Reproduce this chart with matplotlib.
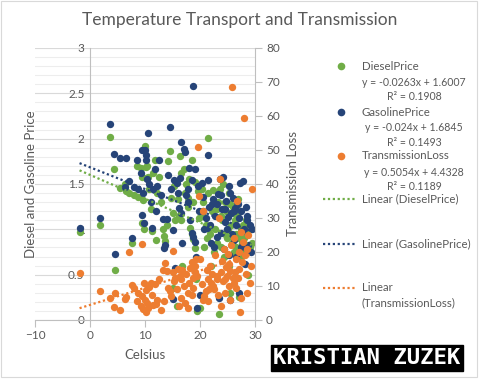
import matplotlib
matplotlib.use("Agg")
import matplotlib.pyplot as plt
import numpy as np
from matplotlib.lines import Line2D
from matplotlib.patches import Rectangle

plt.rcParams["font.family"] = ["Lato", "DejaVu Sans"]

# one row per day: temperature, diesel price, gasoline price, transmission loss
celsius = [-1.9, 1.9, 3.6, 4.4, 4.5, 5.5, 6.5, 6.4, 7.0, 7.6,
           8.0, 8.6, 8.8, 9.3, 9.4, 9.4, 9.7, 9.9, 10.0, 10.1,
           10.2, 10.4, 10.6, 10.8, 11.2, 11.5, 11.8, 12.2, 12.6, 12.9,
           13.3, 13.4, 13.6, 14.0, 14.5, 14.7, 15.0, 15.0, 15.2, 15.5,
           15.8, 16.0, 16.2, 16.4, 16.5, 16.6, 17.0, 17.2, 17.5, 17.8,
           18.0, 18.5, 18.6, 18.8, 18.7, 19.0, 19.1, 19.3, 19.5, 19.7,
           19.9, 20.0, 20.3, 20.5, 20.6, 21.0, 21.2, 21.5, 21.5, 21.8,
           22.0, 22.2, 22.5, 22.8, 23.0, 23.2, 23.5, 23.6, 23.8, 24.0,
           24.2, 24.4, 24.5, 24.7, 24.9, 25.0, 25.2, 25.3, 25.5, 25.6,
           25.9, 26.0, 26.1, 26.3, 26.5, 26.6, 26.8, 27.0, 27.1, 27.3,
           27.4, 27.5, 27.6, 27.8, 28.0, 28.1, 28.3, 28.5, 28.8, 29.0,
           29.2, 29.4,
           22.3, 23.0, 23.9, 24.6, 25.4, 26.2, 26.9, 21.7, 12.0, 14.2,
           17.9, 20.8, 28.6, 16.8, 11.0, 18.2]
diesel = [0.97, 1.05, 2.02, 1.67, 0.55, 1.46, 1.42, 1.50, 1.40, 0.85,
          1.38, 1.70, 1.36, 1.68, 1.07, 1.58, 1.32, 1.00, 1.92, 1.69,
          1.57, 1.70, 1.58, 1.45, 0.98, 1.62, 1.76, 1.40, 1.58, 1.30,
          1.00, 0.93, 0.87, 1.05, 1.86, 1.35, 1.18, 0.35, 1.48, 1.10,
          0.15, 1.33, 1.15, 1.81, 1.62, 1.10, 1.67, 1.40, 1.50, 1.25,
          1.55, 0.95, 1.76, 1.30, 0.89, 0.79, 1.52, 0.45, 0.10, 1.42,
          1.12, 0.13, 1.45, 1.30, 1.15, 1.05, 0.90, 2.01, 1.40, 0.95,
          0.60, 1.20, 0.75, 1.00, 0.85, 1.30, 0.07, 1.45, 0.80, 1.10,
          1.50, 0.70, 0.95, 1.20, 0.90, 1.00, 1.40, 0.60, 0.30, 1.05,
          0.85, 1.25, 0.75, 1.10, 0.95, 0.80, 1.15, 0.25, 0.90, 1.20,
          0.70, 1.00, 0.85, 1.05, 0.90, 0.75, 1.10, 0.95, 0.50, 0.80,
          1.00, 0.85,
          1.43, 1.22, 1.15, 1.30, 1.28, 1.18, 1.33, 1.00, 0.88, 1.75,
          1.35, 0.80, 1.05, 0.60, 1.22, 1.02]
gasoline = [1.02, 1.12, 2.16, 1.83, 0.73, 1.79, 1.79, 1.47, 1.53, 0.90,
            1.47, 1.76, 1.44, 1.62, 1.16, 1.88, 1.40, 1.07, 1.87, 1.82,
            1.76, 1.55, 2.06, 1.50, 1.01, 1.45, 1.67, 1.48, 1.76, 1.38,
            1.11, 0.79, 0.83, 1.11, 2.13, 1.44, 0.99, 0.23, 1.54, 0.57,
            1.51, 1.40, 1.24, 1.57, 1.96, 1.18, 1.89, 1.85, 1.38, 1.30,
            1.68, 0.96, 1.54, 2.58, 0.91, 0.86, 1.67, 0.69, 0.13, 1.48,
            1.20, 0.28, 1.51, 1.36, 1.20, 1.12, 1.02, 1.82, 1.54, 1.05,
            0.85, 1.28, 0.80, 1.15, 0.92, 1.39, 0.24, 1.55, 0.96, 1.22,
            1.58, 0.78, 1.08, 1.31, 1.00, 1.14, 1.48, 0.72, 0.22, 1.18,
            0.95, 1.35, 0.88, 1.24, 1.05, 0.70, 1.30, 0.30, 1.12, 1.51,
            0.80, 1.20, 0.98, 1.53, 1.00, 0.62, 1.25, 1.10, 0.83, 1.05,
            0.75, 1.00,
            1.33, 1.28, 1.38, 1.22, 1.40, 1.20, 1.28, 1.25, 1.20, 1.60,
            1.45, 1.00, 1.15, 0.85, 1.30, 1.10]
loss = [13.7, 8.5, 6.4, 3.7, 7.8, 2.9, 6.9, 6.2, 20.1, 10.3,
        9.3, 5.5, 8.0, 4.0, 22.3, 7.2, 3.2, 11.0, 6.0, 2.5,
        8.8, 5.0, 3.5, 9.8, 7.5, 4.5, 10.5, 6.0, 12.0, 3.0,
        14.7, 5.5, 16.7, 14.5, 8.5, 7.0, 20.3, 14.2, 11.5, 12.5,
        9.0, 15.0, 4.2, 13.0, 6.5, 12.0, 10.0, 5.0, 13.5, 8.0,
        11.0, 17.0, 7.5, 12.5, 9.5, 16.0, 14.0, 18.0, 13.0, 51.0,
        36.5, 18.0, 10.5, 6.0, 32.0, 8.5, 14.8, 12.0, 5.5, 16.0,
        11.0, 13.5, 9.0, 19.0, 12.0, 7.5, 30.0, 41.4, 14.0, 17.5,
        11.5, 21.0, 8.0, 15.5, 13.0, 19.5, 10.0, 16.5, 6.0, 22.0,
        68.5, 12.5, 24.0, 14.0, 18.0, 9.5, 35.0, 20.0, 15.0, 2.4,
        26.0, 6.5, 17.0, 23.0, 59.3, 19.0, 13.5, 21.0, 25.0, 11.0,
        16.0, 38.5,
        10.0, 13.0, 4.0, 12.0, 14.5, 11.0, 12.5, 9.0, 4.8, 9.5,
        3.5, 7.0, 8.0, 14.6, 10.8, 15.2]

# linear trendlines as reported in the chart (slope, intercept)
trend_diesel = [-0.0263, 1.6007]
trend_gasoline = [-0.024, 1.6845]
trend_loss = [0.5054, 4.4328]

GREEN = "#70AD47"
NAVY = "#264478"
ORANGE = "#ED7D31"
TXT = "#595959"
GRID = "#D9D9D9"
W, H = 480, 380

fig = plt.figure(figsize=(4.8, 3.8), dpi=100)
ax = fig.add_axes([35 / W, 1 - 320 / H, 220 / W, 272 / H])
ax2 = ax.twinx()

ax.set_xlim(-10, 30)
ax.set_ylim(0, 3)
ax2.set_ylim(0, 80)

ax.set_xticks([-10, 0, 10, 20, 30])
ax.set_yticks(np.arange(0, 3.01, 0.5))
ax.set_yticks(np.arange(0, 3.01, 0.1), minor=True)
ax.set_yticklabels(["0", "0.5", "1", "1.5", "2", "2.5", "3"])
ax2.set_yticks(np.arange(0, 81, 10))

ax.grid(axis="y", which="major", color=GRID, lw=0.8)
ax.grid(axis="y", which="minor", color="#EDEDED", lw=0.8)
ax.set_axisbelow(True)

for a in (ax, ax2):
    for s in a.spines.values():
        s.set_visible(False)
ax.spines["left"].set_visible(True)
ax.spines["left"].set_position(("data", 0))
ax.spines["left"].set_color("#BFBFBF")
ax.spines["bottom"].set_visible(True)
ax.spines["bottom"].set_color("#BFBFBF")
ax2.spines["right"].set_visible(True)
ax2.spines["right"].set_color("#BFBFBF")

ax.tick_params(axis="y", which="both", length=0, pad=4, labelsize=8.5, labelcolor=TXT)
ax.tick_params(axis="x", length=5, direction="out", color="#BFBFBF", pad=2,
               labelsize=8.5, labelcolor=TXT)
ax2.tick_params(axis="y", length=5, direction="out", color="#BFBFBF", pad=3,
                labelsize=8.5, labelcolor=TXT)

x = np.array(celsius)
xs = np.array([x.min(), x.max()])

ax.scatter(celsius, diesel, s=28, color=GREEN, lw=0, zorder=3)
ax.scatter(celsius, gasoline, s=28, color=NAVY, lw=0, zorder=3)
ax.plot(xs, trend_diesel[0] * xs + trend_diesel[1], color=GREEN, lw=1.6,
        ls=(0, (1, 1.2)), zorder=4)
ax.plot(xs, trend_gasoline[0] * xs + trend_gasoline[1], color=NAVY, lw=1.6,
        ls=(0, (1, 1.2)), zorder=4)
ax2.scatter(celsius, loss, s=28, color=ORANGE, lw=0, zorder=3)
ax2.plot(xs, trend_loss[0] * xs + trend_loss[1], color=ORANGE, lw=1.6,
         ls=(0, (1, 1.2)), zorder=4)

ax.set_xlabel("Celsius", fontsize=9.5, color=TXT)
ax.xaxis.set_label_coords(0.5, -0.105)
ax.set_ylabel("Diesel and Gasoline Price", fontsize=9.5, color=TXT)
ax.yaxis.set_label_coords(0.01, 0.5)
ax2.set_ylabel("Transmission Loss", fontsize=9.5, color=TXT)
ax2.yaxis.set_label_coords(1.145, 0.5)

fig.text(0.5, 1 - 20 / H, "Temperature Transport and Transmission",
         ha="center", va="center", fontsize=12.5, color=TXT)


def px(xp, yp):
    return xp / W, 1 - yp / H


# legend, drawn by hand to keep the trendline equations under each series
for yp, col, name, eq, r2 in [
    (66, GREEN, "DieselPrice", "y = -0.0263x + 1.6007", "R² = 0.1908"),
    (112, NAVY, "GasolinePrice", "y = -0.024x + 1.6845", "R² = 0.1493"),
    (156, ORANGE, "TransmissionLoss", "y = 0.5054x + 4.4328", "R² = 0.1189"),
]:
    fig.add_artist(Line2D([341 / W], [1 - yp / H], marker="o", ms=5.5,
                          color=col, mew=0, ls="none"))
    fig.text(*px(362, yp), name, ha="left", va="center", fontsize=8.3, color=TXT)
    fig.text(*px(414, yp + 16), eq, ha="center", va="center", fontsize=7.6, color=TXT)
    fig.text(*px(414, yp + 31), r2, ha="center", va="center", fontsize=7.6, color=TXT)

for yp, col, name in [
    (199, GREEN, "Linear (DieselPrice)"),
    (244, NAVY, "Linear (GasolinePrice)"),
    (288, ORANGE, "Linear\n(TransmissionLoss)"),
]:
    fig.add_artist(Line2D([323 / W, 355 / W], [1 - yp / H, 1 - yp / H],
                          color=col, lw=1.6, ls=(0, (1, 1.2))))
    fig.text(*px(362, yp - 6), name, ha="left", va="top", fontsize=8.3,
             color=TXT, linespacing=1.45)

# signature block
fig.text(*px(367, 358), "KRISTIAN ZUZEK", ha="center", va="center",
         fontsize=16, fontweight="bold", color="white", family="DejaVu Sans Mono",
         bbox=dict(boxstyle="square,pad=0.12", fc="black", ec="black"))

fig.add_artist(Rectangle((1 / W, 3 / H), 476 / W, 376 / H, fill=False,
                         ec=GRID, lw=0.8, transform=fig.transFigure))

fig.savefig("out.png", dpi=100)
